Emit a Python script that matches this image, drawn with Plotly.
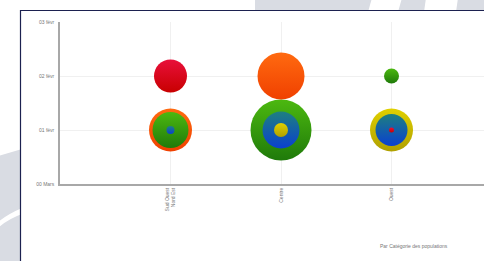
import plotly.graph_objects as go
import pandas as pd

# ---- data ----
categories = ["Sud Ouest<br>Nord Est", "Centre", "Ouest"]
y_ticks = [0, 1, 2, 3]
y_tick_labels = ["00 Mars", "01 févr", "02 févr", "03 févr"]

red_cat = ["Sud Ouest<br>Nord Est", "Ouest"]
red_y = [2, 1]
red_val = [33, 5]
orange_cat = ["Sud Ouest<br>Nord Est", "Centre"]
orange_y = [1, 2]
orange_val = [43, 47]
green_cat = ["Sud Ouest<br>Nord Est", "Centre", "Ouest"]
green_y = [1, 1, 2]
green_val = [36, 61, 15]
blue_cat = ["Sud Ouest<br>Nord Est", "Centre", "Ouest"]
blue_y = [1, 1, 1]
blue_val = [8, 37, 32]
yellow_cat = ["Centre", "Ouest"]
yellow_y = [1, 1]
yellow_val = [14, 43]

axis_title = "Par Catégorie des populations"

colors = {
    "Rouge": ("#e8103a", "#c80000"),
    "Orange": ("#ff6a10", "#f04000"),
    "Vert": ("#4cb810", "#1f7a0a"),
    "Bleu": ("#1e8080", "#0a40d0"),
    "Jaune": ("#e0d000", "#b0a000"),
}

rows = []
for name, cats, ys, vals in [
    ("Rouge", red_cat, red_y, red_val),
    ("Orange", orange_cat, orange_y, orange_val),
    ("Vert", green_cat, green_y, green_val),
    ("Bleu", blue_cat, blue_y, blue_val),
    ("Jaune", yellow_cat, yellow_y, yellow_val),
]:
    for c, y, v in zip(cats, ys, vals):
        rows.append({"serie": name, "cat": categories.index(c), "y": y, "val": v})
df = pd.DataFrame(rows).sort_values("val", ascending=False)

fig = go.Figure()
fig.add_trace(go.Scatter(
    x=df["cat"], y=df["y"], mode="markers",
    marker=dict(
        size=df["val"], sizemode="diameter", sizeref=1,
        color=[colors[s][0] for s in df["serie"]],
        gradient=dict(type="vertical", color=[colors[s][1] for s in df["serie"]]),
        line=dict(width=0), opacity=1,
    ),
    hoverinfo="skip", showlegend=False,
))

# paper coordinate helpers (plot area: x 60..484 px, y 22..184 px)
def px(x):
    return (x - 60) / 424.0

def py(y):
    return (184 - y) / 162.0

gray = "#d9dce3"
shapes = []
for x0, x1, x0b, x1b in [(255, 372, 255, 368), (402, 426, 398, 424), (458, 490, 456, 490)]:
    shapes.append(dict(type="path", xref="paper", yref="paper", layer="below",
                       path=f"M {px(x0)},{py(-2)} L {px(x1)},{py(-2)} L {px(x1b)},{py(12)} L {px(x0b)},{py(12)} Z",
                       fillcolor=gray, line=dict(width=0)))
shapes.append(dict(type="path", xref="paper", yref="paper", layer="below",
                   path=f"M {px(-2)},{py(156)} L {px(22)},{py(149)} L {px(22)},{py(265)} L {px(-2)},{py(265)} Z",
                   fillcolor=gray, line=dict(width=0)))
shapes.append(dict(type="path", xref="paper", yref="paper", layer="below",
                   path=f"M {px(-2)},{py(222)} Q {px(8)},{py(214)} {px(22)},{py(208)} L {px(22)},{py(214)} Q {px(8)},{py(219)} {px(-2)},{py(228)} Z",
                   fillcolor="#ffffff", line=dict(width=0)))
shapes.append(dict(type="rect", xref="paper", yref="paper", layer="below",
                   x0=px(20.5), x1=px(500), y0=py(270), y1=py(10.5),
                   fillcolor="#ffffff", line=dict(color="#1c2150", width=1.2)))

fig.update_layout(
    width=484, height=261,
    margin=dict(l=60, r=0, t=22, b=77, pad=0),
    paper_bgcolor="#ffffff", plot_bgcolor="rgba(0,0,0,0)",
    font=dict(family="Liberation Sans", size=5, color="#666666"),
    shapes=shapes,
    xaxis=dict(
        range=[-1, 2.837], tickvals=list(range(len(categories))), ticktext=categories,
        tickangle=-90, showgrid=True, gridcolor="#f0f0f0", gridwidth=1,
        showline=True, linecolor="#a8a8a8", linewidth=1.5, zeroline=False,
        ticks="", tickfont=dict(size=5, color="#777777"),
    ),
    yaxis=dict(
        range=[0, 3], tickvals=y_ticks, ticktext=y_tick_labels,
        showgrid=True, gridcolor="#f0f0f0", gridwidth=1,
        showline=True, linecolor="#a8a8a8", linewidth=1.5, zeroline=False,
        ticks="outside", ticklen=3, tickcolor="#ffffff", tickfont=dict(size=5, color="#777777"),
    ),
    annotations=[dict(text=axis_title, xref="paper", yref="paper", x=px(378), y=py(246),
                      xanchor="left", yanchor="middle", showarrow=False,
                      font=dict(size=5, color="#777777"))],
)

fig.write_html(
    "out.html",
    config={"displayModeBar": False},
    post_script="document.body.style.margin='0';document.body.style.overflow='hidden';",
)
